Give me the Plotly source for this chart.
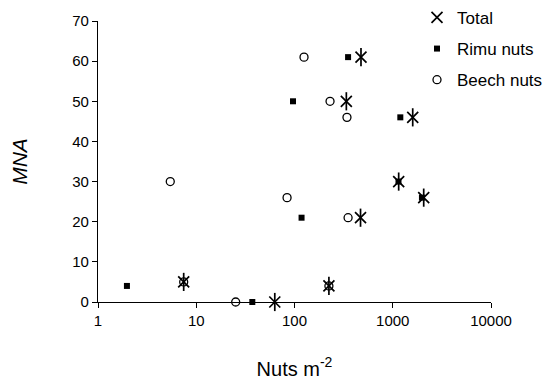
import plotly.graph_objects as go

# Data
total_x = [475, 337, 1597, 1149, 2066, 470, 7.45, 224, 63]
total_y = [61, 50, 46, 30, 26, 21, 5, 4, 0]

rimu_x = [351, 96.6, 1194, 1144, 1982, 118, 1.97, 37.2]
rimu_y = [61, 50, 46, 30, 26, 21, 4, 0]

beech_x = [125, 230, 342, 5.44, 84, 351, 7.45, 224, 25.2]
beech_y = [61, 50, 46, 30, 26, 21, 5, 4, 0]

x_tickvals = [1, 10, 100, 1000, 10000]
x_ticktext = ["1", "10", "100", "1000", "10000"]
y_tickvals = [0, 10, 20, 30, 40, 50, 60, 70]

FONT = "Liberation Sans, Arial, sans-serif"

fig = go.Figure()

fig.add_trace(go.Scatter(
    x=beech_x, y=beech_y, mode="markers", name="Beech nuts",
    legendgroup="beech", legendrank=3,
    marker=dict(symbol="circle-open", size=8, color="black", line=dict(width=1.3)),
    cliponaxis=False,
))
fig.add_trace(go.Scatter(
    x=rimu_x, y=rimu_y, mode="markers", name="Rimu nuts",
    legendgroup="rimu", legendrank=2,
    marker=dict(symbol="square", size=6, color="black"),
    cliponaxis=False,
))
fig.add_trace(go.Scatter(
    x=total_x, y=total_y, mode="markers", name="Total",
    legendgroup="total", legendrank=1,
    marker=dict(symbol="x-thin-open", size=11, color="black", line=dict(width=1.7, color="black")),
    cliponaxis=False,
))
fig.add_trace(go.Scatter(
    x=total_x, y=total_y, mode="markers", name="Total",
    legendgroup="total", showlegend=False,
    marker=dict(symbol="line-ns-open", size=13, color="black", line=dict(width=1.7, color="black")),
    cliponaxis=False,
))

fig.update_layout(
    template="none",
    width=551, height=379,
    margin=dict(l=90, r=68, t=13, b=85, autoexpand=False),
    paper_bgcolor="white", plot_bgcolor="white",
    font=dict(family=FONT, size=15, color="black"),
    showlegend=True,
    legend=dict(
        x=(416 - 97) / 393, y=1.075, xanchor="left", yanchor="top",
        xref="paper", yref="paper",
        bgcolor="rgba(0,0,0,0)", borderwidth=0, font=dict(size=17, family=FONT),
        traceorder="grouped", tracegroupgap=6,
    ),
)

fig.update_xaxes(
    type="log", range=[0, 4], automargin=False,
    tickvals=x_tickvals, ticktext=x_ticktext,
    showgrid=False, zeroline=False,
    showline=True, linecolor="black", linewidth=1.3,
    ticks="outside", ticklen=5, tickwidth=1.3, tickcolor="black",
    tickfont=dict(size=15),
    title=dict(text="Nuts m<sup>-2</sup>", font=dict(size=20), standoff=33),
)
fig.update_yaxes(
    range=[0, 70], tickvals=y_tickvals, automargin=False,
    showgrid=False, zeroline=False,
    showline=True, linecolor="black", linewidth=1.3,
    ticks="outside", ticklen=5, tickwidth=1.3, tickcolor="black",
    tickfont=dict(size=15),
    title=dict(text="<i>MNA</i>", font=dict(size=21), standoff=44),
)

fig.write_html("out.html")
